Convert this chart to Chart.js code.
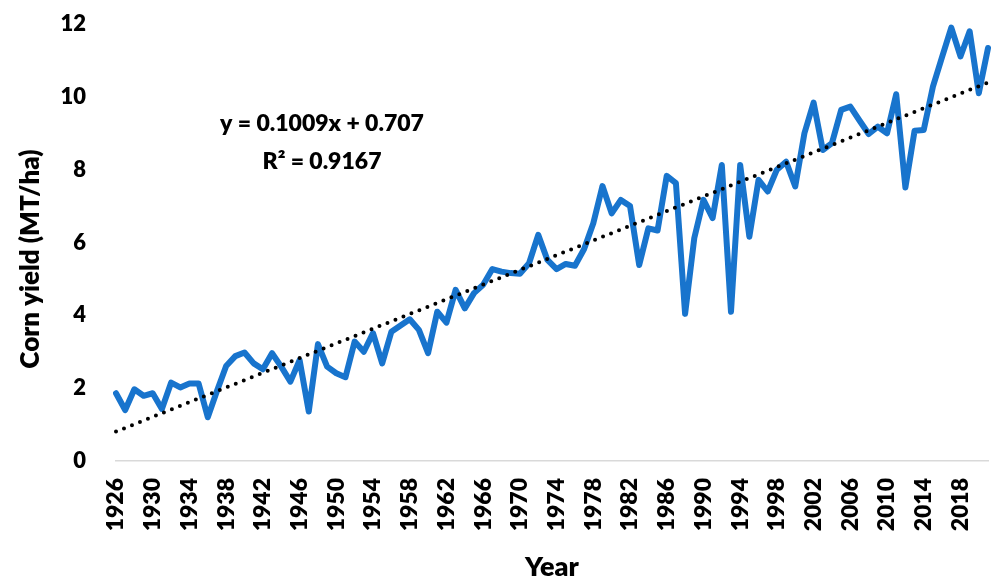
<!DOCTYPE html>
<html>
<head>
<meta charset="utf-8">
<script src="https://cdn.jsdelivr.net/npm/chart.js@4.4.1/dist/chart.umd.min.js"></script>
<style>
  html, body { margin: 0; padding: 0; background: #ffffff; }
  #wrap { width: 992px; height: 583px; position: relative; }
</style>
</head>
<body>
<div id="wrap"><canvas id="c" width="992" height="583"></canvas></div>
<script>
// ---- Data ----
const years = [];
for (let y = 1926; y <= 2021; y++) years.push(String(y));

const cornYield = [
  1.86, 1.40, 1.97, 1.79, 1.86, 1.43, 2.15, 2.02, 2.13, 2.13,
  1.20, 1.92, 2.61, 2.88, 2.98, 2.68, 2.52, 2.96, 2.59, 2.18,
  2.77, 1.36, 3.21, 2.59, 2.41, 2.30, 3.28, 3.00, 3.51, 2.68,
  3.55, 3.72, 3.89, 3.60, 2.96, 4.10, 3.80, 4.70, 4.19, 4.61,
  4.84, 5.27, 5.20, 5.16, 5.14, 5.43, 6.21, 5.52, 5.27, 5.41,
  5.36, 5.82, 6.53, 7.55, 6.80, 7.17, 7.00, 5.38, 6.39, 6.33,
  7.83, 7.63, 4.04, 6.12, 7.17, 6.67, 8.13, 4.10, 8.13, 6.16,
  7.72, 7.40, 8.00, 8.22, 7.54, 9.00, 9.84, 8.54, 8.73, 9.64,
  9.73, 9.35, 8.98, 9.18, 9.00, 10.07, 7.51, 9.07, 9.09, 10.28,
  11.10, 11.90, 11.11, 11.80, 10.10, 11.34
];

// Trendline end points (linear fit shown on chart)
const trendYears = ['1926', '2021'];
const trendValues = [0.808, 10.393];

const equationLines = ['y = 0.1009x + 0.707', 'R\u00B2 = 0.9167'];
const yTicks = [0, 2, 4, 6, 8, 10, 12];
const yTitle = 'Corn yield (MT/ha)';
const xTitle = 'Year';

const FONT = "Lato, 'Open Sans', 'Liberation Sans', sans-serif";
const W = 800;

const textPlugin = {
  id: 'texts',
  afterDatasetsDraw(chart) {
    const ctx = chart.ctx;
    ctx.save();
    ctx.fillStyle = '#000';
    ctx.textAlign = 'center';
    ctx.textBaseline = 'middle';
    ctx.font = W + ' 23px ' + FONT;
    ctx.fillText(equationLines[0], 322, 124);
    ctx.fillText(equationLines[1], 322, 162);
    // y-axis title
    ctx.font = W + ' 26px ' + FONT;
    ctx.translate(31, 259);
    ctx.rotate(-Math.PI / 2);
    ctx.fillText(yTitle, 0, 0);
    ctx.restore();
  }
};

new Chart(document.getElementById('c'), {
  type: 'line',
  data: {
    labels: years,
    datasets: [
      {
        label: 'Linear trend',
        data: trendYears.map((x, i) => ({ x: x, y: trendValues[i] })),
        borderColor: '#000000',
        borderWidth: 4,
        borderDash: [0, 8.6],
        borderCapStyle: 'round',
        pointRadius: 0,
        fill: false,
        tension: 0,
        order: 0
      },
      {
        label: 'Corn yield',
        data: cornYield,
        borderColor: '#1874CD',
        borderWidth: 6,
        borderJoinStyle: 'round',
        borderCapStyle: 'round',
        pointRadius: 0,
        fill: false,
        tension: 0,
        order: 1
      }
    ]
  },
  options: {
    responsive: false,
    animation: false,
    devicePixelRatio: 1,
    layout: { padding: { top: 24, right: 4, left: 0, bottom: 0 } },
    plugins: {
      legend: { display: false },
      tooltip: { enabled: false }
    },
    scales: {
      x: {
        type: 'category',
        offset: false,
        grid: { display: false, drawTicks: false, tickLength: 0 },
        border: { display: true, color: '#d9d9d9', width: 1.5 },
        ticks: {
          autoSkip: false,
          maxRotation: 90,
          minRotation: 90,
          padding: 17,
          color: '#000',
          font: { family: FONT, size: 23, weight: W },
          callback: function(v, i) { return i % 4 === 0 ? years[i] : ''; }
        },
        title: {
          display: true,
          text: xTitle,
          color: '#000',
          font: { family: FONT, size: 27, weight: W },
          padding: { top: 0, bottom: 0 }
        },
        afterFit: function(s) {
          s.height = 122;
          s.paddingLeft = 0; s.paddingRight = 0;
        }
      },
      y: {
        min: 0,
        max: 12,
        afterBuildTicks: function(s) { s.ticks = yTicks.map(v => ({ value: v })); },
        grid: { display: false, drawTicks: false, tickLength: 0 },
        border: { display: false },
        ticks: {
          padding: 30,
          color: '#000',
          font: { family: FONT, size: 22, weight: W }
        },
        title: { display: false },
        afterFit: function(s) {
          s.width = 116;
          s.paddingTop = 0; s.paddingBottom = 0;
        }
      }
    }
  },
  plugins: [textPlugin]
});
</script>
</body>
</html>
